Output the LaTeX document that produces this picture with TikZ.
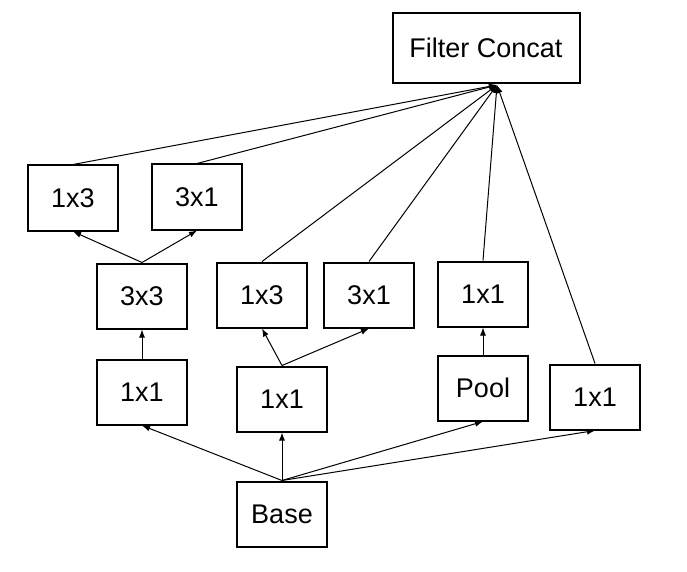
\documentclass[tikz,border=0pt]{standalone}
\usepackage{fontspec}
\setmainfont{Liberation Sans}
\usetikzlibrary{arrows.meta}
\begin{document}
\begin{tikzpicture}[x=1pt,y=-1pt,
  box/.style={draw,line width=2pt,minimum width=90pt,minimum height=65pt,inner sep=0pt,font=\fontsize{27}{30}\selectfont},
  arr/.style={line width=1pt,-{Latex[length=8pt,width=6pt]}}]
\useasboundingbox (0,0) rectangle (687,572);
\node[box,minimum width=187pt,minimum height=70pt] (fc) at (486,48) {Filter Concat};
\coordinate (c) at (497,85);
\node[box] (a13) at (73,198) {1x3};
\node[box] (a31) at (197,197) {3x1};
\node[box] (a33) at (142,296) {3x3};
\node[box] (b13) at (262,295) {1x3};
\node[box] (b31) at (369,295) {3x1};
\node[box] (c11) at (483,294) {1x1};
\node[box] (l11) at (142,392) {1x1};
\node[box] (m11) at (282,399) {1x1};
\node[box] (pool) at (483,388) {Pool};
\node[box] (r11) at (595,397) {1x1};
\node[box] (base) at (282,514) {Base};
\foreach \n in {a13,a31,b13,b31,c11,r11} \draw[arr] (\n.north) -- (c);
\draw[arr] (a33.north) -- (a13.south);
\draw[arr] (a33.north) -- (a31.south);
\draw[arr] (l11.north) -- (a33.south);
\draw[arr] (m11.north) -- (b13.south);
\draw[arr] (m11.north) -- (b31.south);
\draw[arr] (pool.north) -- (c11.south);
\draw[arr] (base.north) -- (l11.south);
\draw[arr] (base.north) -- (m11.south);
\draw[arr] (base.north) -- (pool.south);
\draw[arr] (base.north) -- (r11.south);
\end{tikzpicture}
\end{document}
